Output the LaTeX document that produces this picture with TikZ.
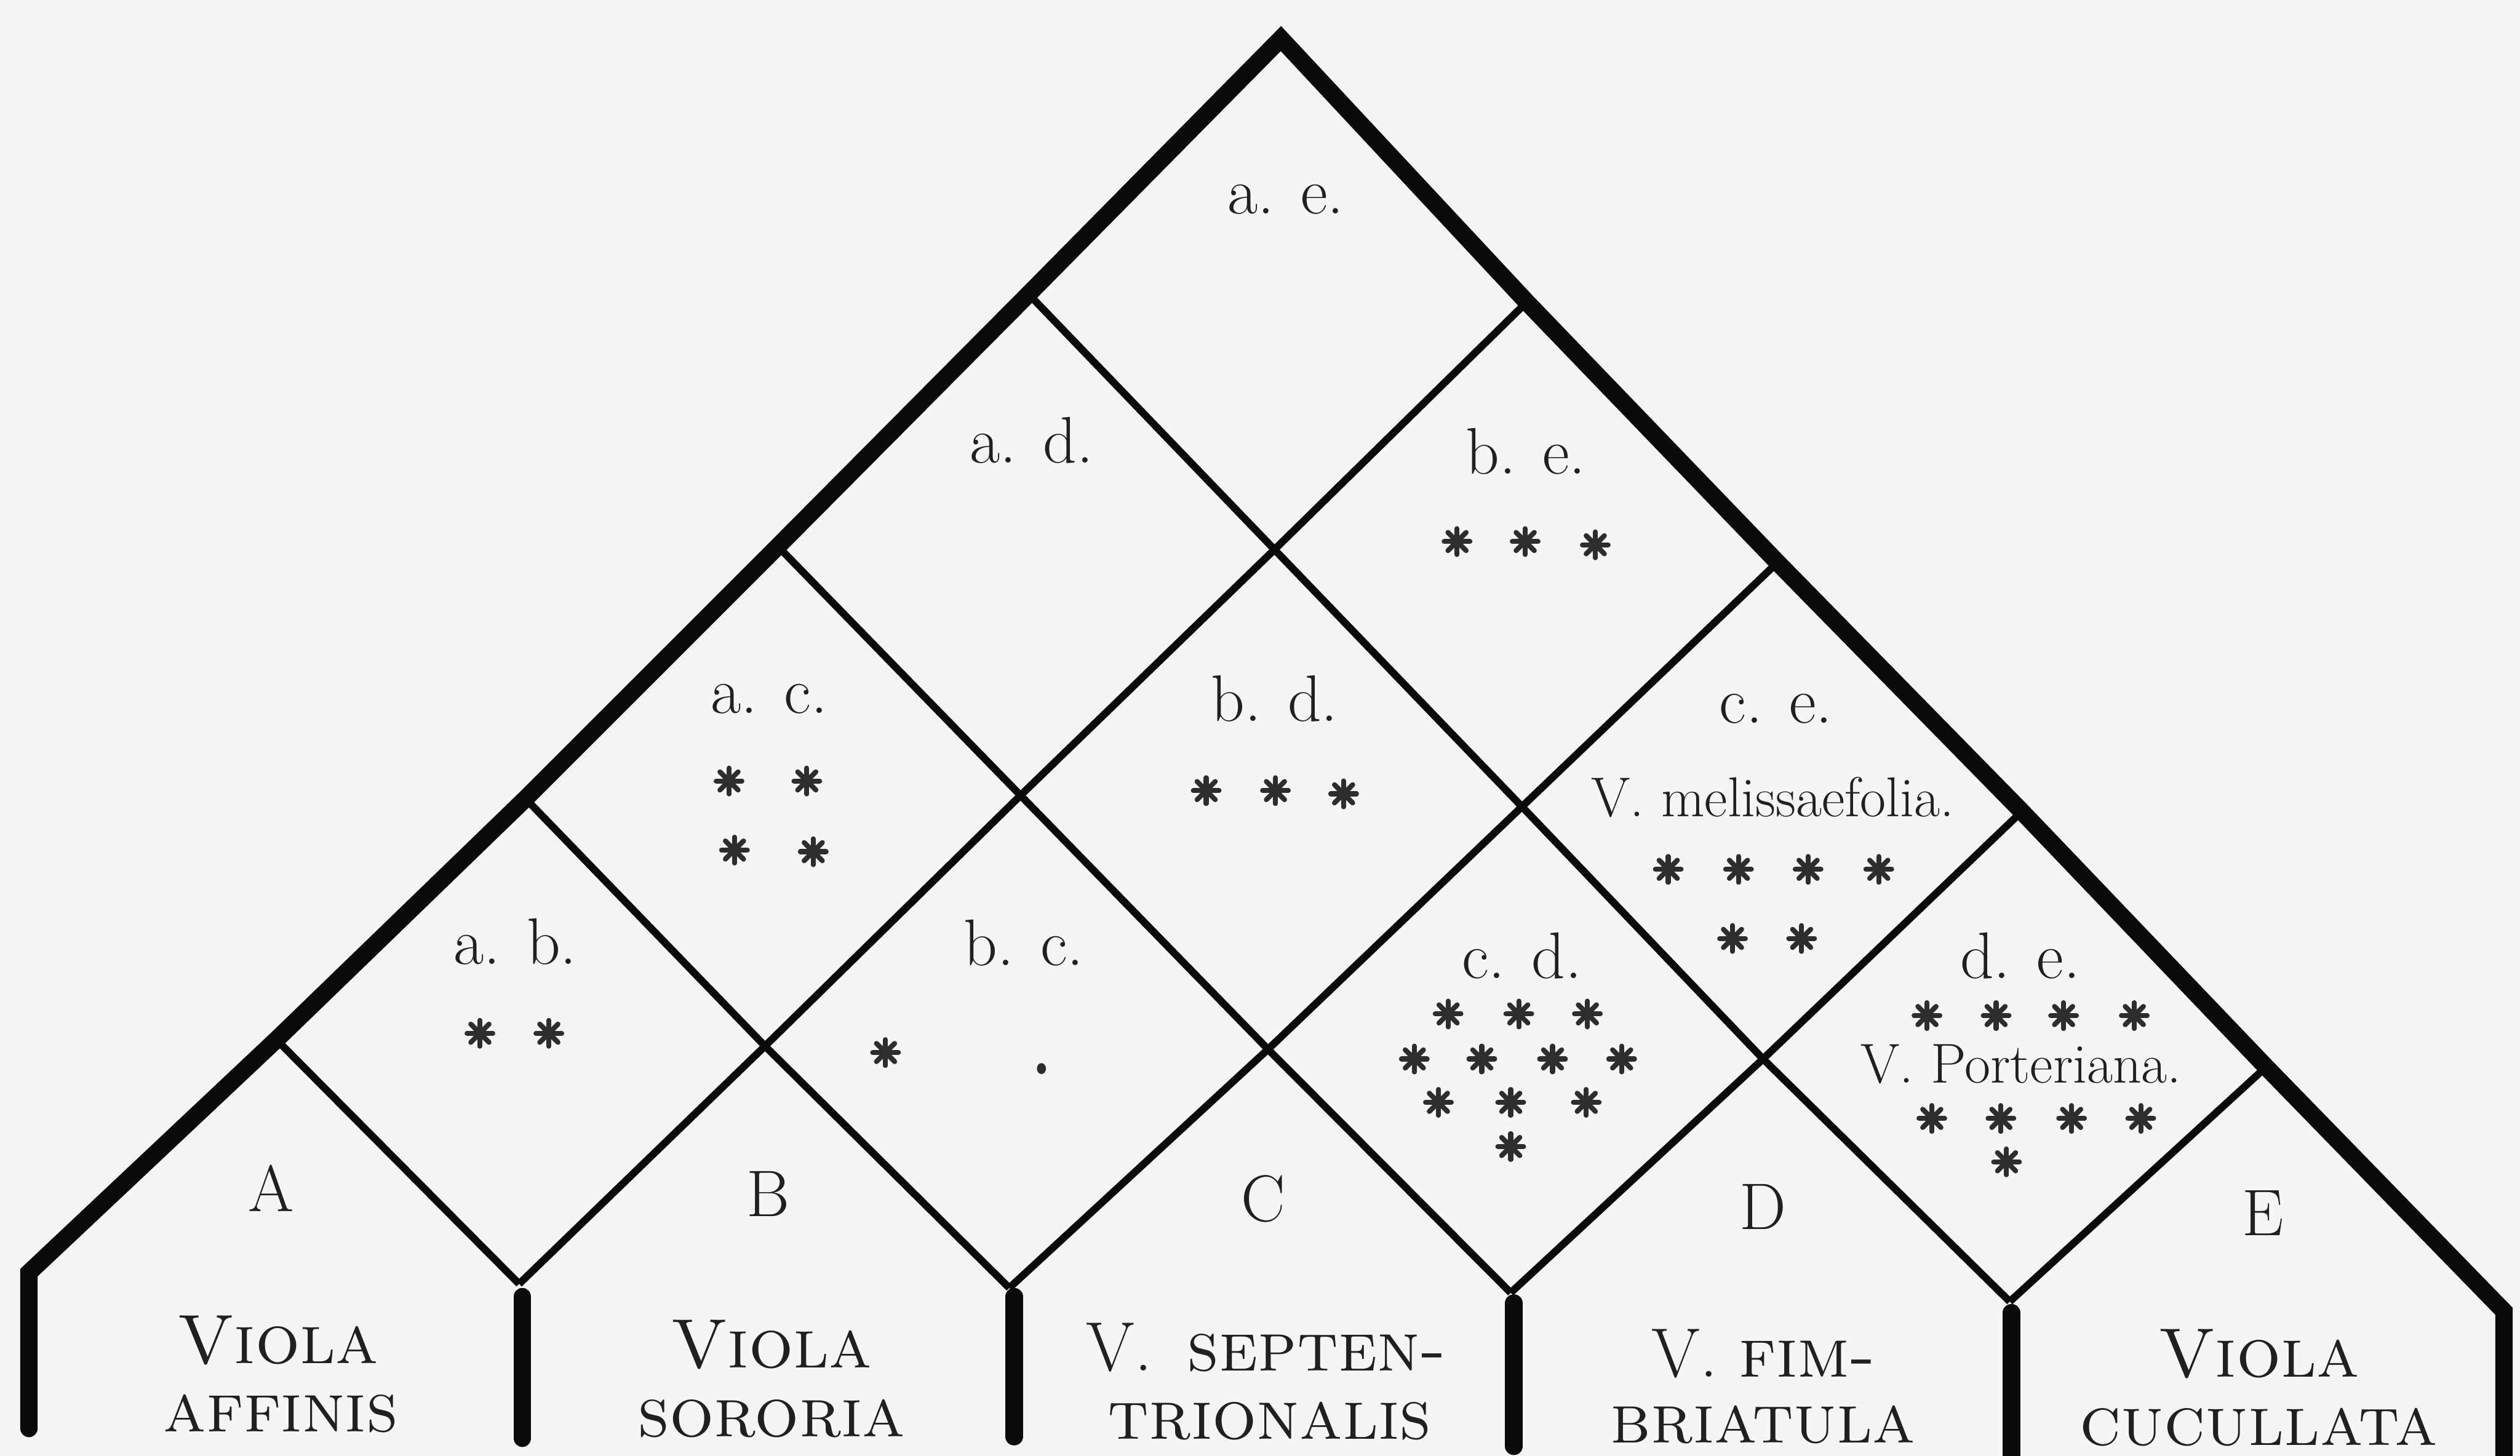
\documentclass[tikz,border=0pt]{standalone}
\definecolor{paper}{RGB}{245,245,245}
\definecolor{ink}{RGB}{10,10,10}
\definecolor{txt}{RGB}{32,32,32}
\definecolor{starc}{RGB}{45,45,45}
\tikzset{
  thickedge/.style={draw=ink, line width=10.8pt, line join=miter, line cap=round},
  bar/.style={draw=ink, line width=11pt, line cap=round},
  thin/.style={draw=ink, line width=4.6pt, line cap=butt},
  lab/.style={font=\fontsize{41}{46}\selectfont, text=txt, inner sep=0pt, anchor=base},
  spname/.style={font=\fontsize{35}{40}\selectfont, text=txt, inner sep=0pt, anchor=base},
  bigl/.style={font=\fontsize{41}{46}\selectfont, text=txt, inner sep=0pt, anchor=base},
  bname/.style={font=\fontsize{43.5}{46}\selectfont, text=txt, inner sep=0pt, anchor=base},
  asterism/.pic={
    \fill[starc] (0,0) circle (4.0);
    \foreach \a in {90,135,...,450} \draw[starc, line width=3.1pt, line cap=round] (0,0) -- (\a:8.0);
  }
}
\begin{document}
\begin{tikzpicture}[x=1pt,y=-1pt]
\fill[paper] (0,0) rectangle (1568,906);
\useasboundingbox (0,0) rectangle (1568,906);

% lattice points
\coordinate (T) at (797,24);
\coordinate (L1) at (640,183);
\coordinate (L2) at (484,340);
\coordinate (L3) at (327,497);
\coordinate (L4) at (172,647);
\coordinate (L5) at (18,792);
\coordinate (LB) at (18,889);
\coordinate (R1) at (950,188);
\coordinate (R2) at (1106,350);
\coordinate (R3) at (1258,505);
\coordinate (R4) at (1410,664);
\coordinate (R5) at (1558,816);
\coordinate (RB) at (1558,920);
\coordinate (X11) at (793,342);
\coordinate (X21) at (635,495);
\coordinate (X31) at (476,651);
\coordinate (X12) at (947,502);
\coordinate (X22) at (789,653);
\coordinate (X13) at (1097,659);
\coordinate (B41) at (323,799);
\coordinate (B32) at (628,801.5);
\coordinate (B23) at (940,804.5);
\coordinate (B14) at (1250.5,810);
% bars
\coordinate (P1t) at (325,807);
\coordinate (P1b) at (325,895);
\coordinate (P2t) at (631,807);
\coordinate (P2b) at (631,894);
\coordinate (P3t) at (942,811);
\coordinate (P3b) at (942,900);
\coordinate (P4t) at (1251.5,817);
\coordinate (P4b) at (1251.5,920);

% thin grid: down-right lines
\draw[thin] (L1) -- (X11) -- (X12) -- (X13) -- (B14);
\draw[thin] (L2) -- (X21) -- (X22) -- (B23);
\draw[thin] (L3) -- (X31) -- (B32);
\draw[thin] (L4) -- (B41);
% thin grid: down-left lines
\draw[thin] (R1) -- (X11) -- (X21) -- (X31) -- (B41);
\draw[thin] (R2) -- (X12) -- (X22) -- (B32);
\draw[thin] (R3) -- (X13) -- (B23);
\draw[thin] (R4) -- (B14);

% thick outline
\draw[thickedge] (LB) -- (L5) -- (L4) -- (L3) -- (L2) -- (L1) -- (T)
  -- (R1) -- (R2) -- (R3) -- (R4) -- (R5) -- (RB);
% separator bars
\draw[bar] (P1t) -- (P1b);
\draw[bar] (P2t) -- (P2b);
\draw[bar] (P3t) -- (P3b);
\draw[bar] (P4t) -- (P4b);

% cell labels
\node[lab] (ae) at (800,133) {a. e.};
\node[lab] (ad) at (642,288) {a. d.};
\node[lab] (be) at (949.5,295) {b. e.};
\node[lab] (ac) at (478.6,444) {a. c.};
\node[lab] (bd) at (793,449) {b. d.};
\node[lab] (ce) at (1105,450) {c. e.};
\node[spname] (mel) at (1103,508) {V. melissaefolia.};
\node[lab] (ab) at (320.6,600) {a. b.};
\node[lab] (bc) at (637,601) {b. c.};
\node[lab] (cd) at (947,609) {c. d.};
\node[lab] (de) at (1257,609) {d. e.};
\node[spname] (por) at (1257.5,674) {V. Porteriana.};

% stars
\foreach \x/\y in {906.6/337, 949/337, 992.6/339} \pic at (\x,\y) {asterism};
\foreach \x/\y in {453.6/486, 502/486, 457/529, 506/530} \pic at (\x,\y) {asterism};
\foreach \x/\y in {750.5/492, 793.6/492, 836/494} \pic at (\x,\y) {asterism};
\foreach \x/\y in {1038/541, 1081.7/541, 1125/541, 1169/541, 1078/584, 1121/584} \pic at (\x,\y) {asterism};
\foreach \x/\y in {298.6/643, 341.5/643} \pic at (\x,\y) {asterism};
\pic at (551,655) {asterism};
\fill[starc] (648,665) ellipse (2.8 and 3.4);
\foreach \x/\y in {901/631, 945/631, 987.7/631, 880/659, 922/659, 966/659, 1009/659, 895/686, 940/686, 987/686, 940/713.5} \pic at (\x,\y) {asterism};
\foreach \x/\y in {1199/632, 1242/632, 1284/632, 1328/632, 1202/696, 1245/696, 1289/696, 1332/696, 1248.5/723} \pic at (\x,\y) {asterism};

% species letters
\node[bigl] (A) at (168.6,754) {A};
\node[bigl] (B) at (478,757) {B};
\node[bigl] (C) at (786,760) {C};
\node[bigl] (D) at (1097,765) {D};
\node[bigl] (E) at (1408,769) {E};

% species names
\node[bname] (n1a) at (173,848.6) {\textsc{Viola}};
\node[bname] (n1b) at (174.7,891) {\textsc{affinis}};
\node[bname] (n2a) at (480,851) {\textsc{Viola}};
\node[bname] (n2b) at (480,894) {\textsc{sororia}};
\node[bname] (n3a) at (788,853) {V.\hspace{0.5em}\textsc{septen-}};
\node[bname] (n3b) at (790,895.5) {\textsc{trionalis}};
\node[bname] (n4a) at (1097.5,857) {V. \textsc{fim-}};
\node[bname] (n4b) at (1097,898) {\textsc{briatula}};
\node[bname] (n5a) at (1405.6,857) {\textsc{Viola}};
\node[bname] (n5b) at (1405.5,899.5) {\textsc{cucullata}};
\end{tikzpicture}
\end{document}
